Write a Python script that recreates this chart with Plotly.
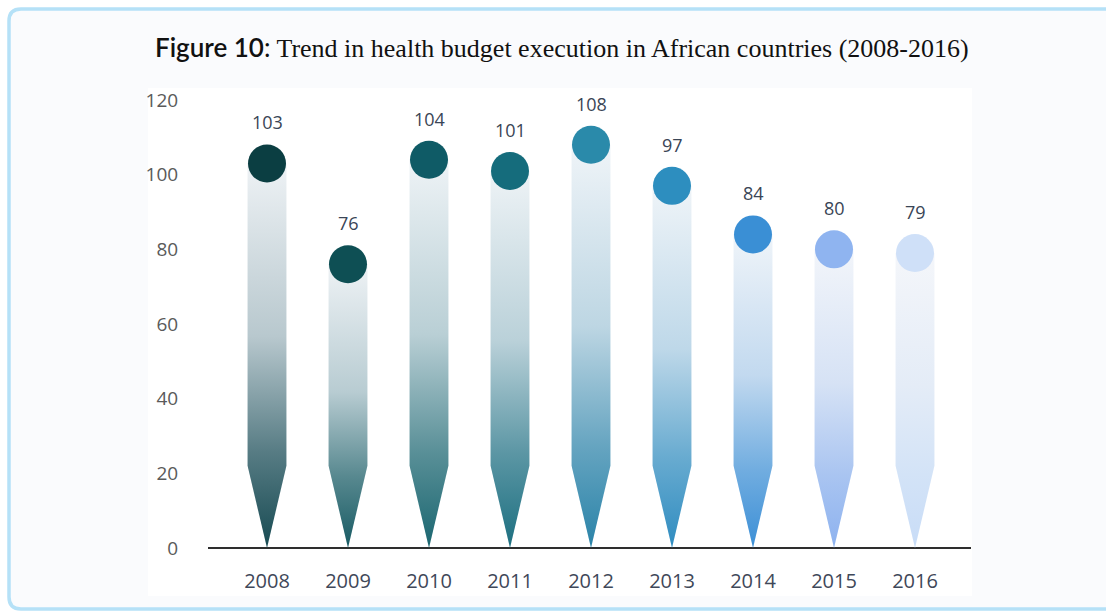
import plotly.graph_objects as go

years = ["2008", "2009", "2010", "2011", "2012", "2013", "2014", "2015", "2016"]
values = [103, 76, 104, 101, 108, 97, 84, 80, 79]
circle_colors = ["#0b3e42", "#0e4f54", "#0f5b66", "#156c7c", "#2a8aaa",
                 "#2d8ebf", "#3a8fd5", "#8fb4f0", "#cfe0f8"]
bar_colors = ["#174a52", "#175a63", "#1a6670", "#1c6f80", "#2a83a8",
              "#2f8cc0", "#3c8fd6", "#8db2ef", "#c8dcf7"]
y_ticks = [0, 20, 40, 60, 80, 100, 120]

# layout geometry (pixels)
W, H = 1106, 612
L, R, T, B = 208, 971, 100, 548


def px_x(p):
    return (p - L) / (R - L)


def px_y(p):
    return (B - p) / (B - T)


def hex2rgb(h):
    h = h.lstrip("#")
    return tuple(int(h[i:i + 2], 16) for i in (0, 2, 4))


def mix(h, target, t):
    a = hex2rgb(h)
    b = hex2rgb(target)
    c = tuple(round(a[i] * (1 - t) + b[i] * t) for i in range(3))
    return "rgb(%d,%d,%d)" % c


fig = go.Figure()

half = 0.24
taper = 22
for i, (yr, v, bc) in enumerate(zip(years, values, bar_colors)):
    xs = [i - half, i - half, i, i + half, i + half, i - half]
    ys = [v, taper, 0, taper, v, v]
    fig.add_trace(go.Scatter(
        x=xs, y=ys, mode="lines", fill="toself",
        line=dict(width=0, color="rgba(0,0,0,0)"),
        fillgradient=dict(type="vertical", colorscale=[
            [0, bc],
            [0.25, mix(bc, "#eef2f7", 0.3)],
            [0.55, mix(bc, "#eef2f7", 0.75)],
            [1, mix(bc, "#f5f7fa", 0.97)],
        ]),
        hoverinfo="skip", showlegend=False,
    ))

fig.add_trace(go.Scatter(
    x=list(range(len(years))), y=values, mode="markers",
    marker=dict(size=38, color=circle_colors, line=dict(width=0)),
    cliponaxis=False, hoverinfo="skip", showlegend=False,
))

for i, v in enumerate(values):
    fig.add_annotation(x=i, y=v, text=str(v), showarrow=False, yshift=41,
                       font=dict(family="Open Sans", size=18, color="#3a4556"))

# frame and background shapes
r = 12
x0, y0, x1, y1 = 9, 9, 1120, 609
path = (f"M {px_x(x0 + r)} {px_y(y0)} L {px_x(x1 - r)} {px_y(y0)} "
        f"Q {px_x(x1)} {px_y(y0)} {px_x(x1)} {px_y(y0 + r)} "
        f"L {px_x(x1)} {px_y(y1 - r)} Q {px_x(x1)} {px_y(y1)} {px_x(x1 - r)} {px_y(y1)} "
        f"L {px_x(x0 + r)} {px_y(y1)} Q {px_x(x0)} {px_y(y1)} {px_x(x0)} {px_y(y1 - r)} "
        f"L {px_x(x0)} {px_y(y0 + r)} Q {px_x(x0)} {px_y(y0)} {px_x(x0 + r)} {px_y(y0)} Z")
fig.add_shape(type="path", path=path, xref="paper", yref="paper", layer="below",
              fillcolor="#fafbfd", line=dict(color="#b5e1f7", width=3.5))
fig.add_shape(type="rect", xref="paper", yref="paper", layer="below",
              x0=px_x(148), x1=px_x(972), y0=px_y(596), y1=px_y(88),
              fillcolor="#ffffff", line=dict(width=0))

# title
fig.add_annotation(
    xref="paper", yref="paper", x=px_x(562), y=px_y(47),
    xanchor="center", yanchor="middle", showarrow=False,
    text=("<span style='font-family:Lato;font-weight:600'>Figure 10</span>"
          "<span style='font-family:Lato'>:</span> "
          "Trend in health budget execution in African countries (2008-2016)"),
    font=dict(family="Liberation Serif", size=26, color="#111111"),
)

fig.update_layout(
    width=W, height=H,
    margin=dict(l=L, r=W - R, t=T, b=H - B, pad=0),
    paper_bgcolor="#ffffff", plot_bgcolor="rgba(0,0,0,0)",
    showlegend=False,
    xaxis=dict(
        range=[(L - 267) / 81, (R - 267) / 81],
        tickmode="array", tickvals=list(range(len(years))), ticktext=years,
        showgrid=False, zeroline=False,
        showline=False,
        ticks="outside", ticklen=15, tickcolor="rgba(0,0,0,0)",
        tickfont=dict(family="Open Sans", size=20, color="#3f4859"),
        fixedrange=True,
    ),
    yaxis=dict(
        range=[0, 120], tickmode="array", tickvals=y_ticks,
        showgrid=False, zeroline=True, zerolinecolor="#2e2e2e", zerolinewidth=2,
        showline=False,
        ticks="outside", ticklen=25, tickcolor="rgba(0,0,0,0)",
        tickfont=dict(family="Open Sans", size=19, color="#5a5a5a"),
        fixedrange=True,
    ),
)

fig.write_html("out.html")
